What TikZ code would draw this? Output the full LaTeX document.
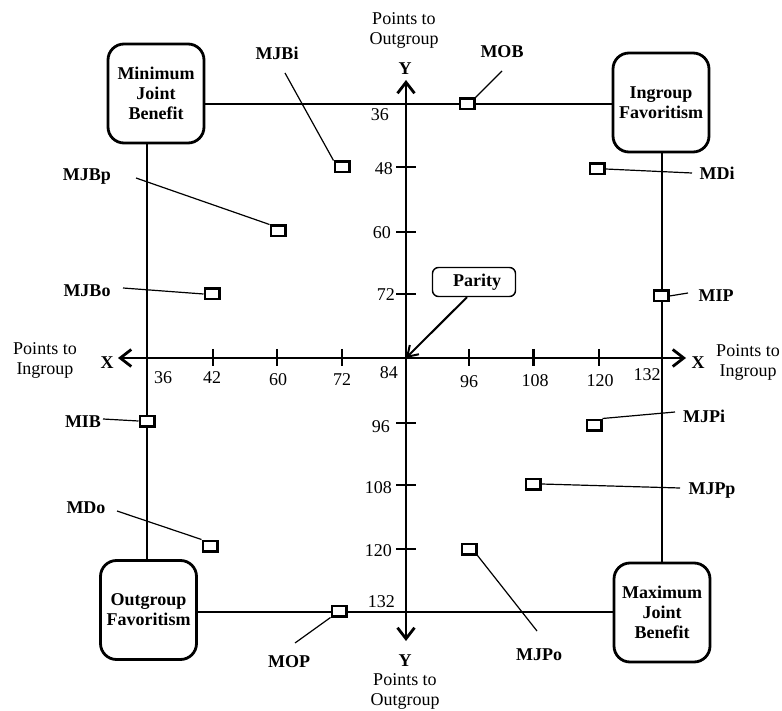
\documentclass[tikz,border=0pt]{standalone}
\usepackage{fontspec}
\setmainfont{Liberation Serif}
\usetikzlibrary{arrows.meta}
\begin{document}
\begin{tikzpicture}[x=1pt,y=-1pt,
  lbl/.style={font=\fontsize{18}{20}\selectfont\bfseries, anchor=base, inner sep=0pt},
  axlbl/.style={font=\fontsize{18}{19.5}\selectfont, align=center, anchor=north, inner sep=0pt},
  num/.style={font=\fontsize{18}{20}\selectfont, inner sep=0pt},
  bigbox/.style={draw, fill=white, line width=2.8pt, rounded corners=16pt, minimum width=96pt, minimum height=99pt, align=center, font=\fontsize{18}{20}\selectfont\bfseries, inner sep=0pt},
  paritybox/.style={draw, fill=white, line width=1.4pt, rounded corners=6pt, minimum width=83pt, minimum height=29pt, font=\fontsize{18}{20}\selectfont\bfseries, inner sep=0pt},
  sq/.style={draw, fill=white, line width=2.5pt, minimum width=14.5pt, minimum height=10.5pt, inner sep=0pt},
  frameline/.style={line width=2.8pt},
  axisline/.style={line width=2.8pt, {Straight Barb[length=11pt,width=17pt]}-{Straight Barb[length=11pt,width=17pt]}},
  tickline/.style={line width=2.4pt},
  leader/.style={line width=1.2pt},
  parityarrow/.style={line width=2pt, -{Straight Barb[length=10pt,width=13pt]}}
]
\useasboundingbox (0,0) rectangle (782,711);

% corner coordinates of the frame
\coordinate (c00) at (147,104);
\coordinate (c80) at (662,104);
\coordinate (c08) at (147,612);
\coordinate (c88) at (662,612);

% the four strategy boxes
\node[bigbox] (minjb) at (156,93.5) {Minimum\\Joint\\Benefit};
\node[bigbox] (ingf) at (661,102.5) {Ingroup\\Favoritism};
\node[bigbox] (outf) at (148.5,610) {Outgroup\\Favoritism};
\node[bigbox] (maxjb) at (662,612.5) {Maximum\\Joint\\Benefit};

% frame lines
\draw[frameline] (minjb.east |- c00) -- (ingf.west |- c00);
\draw[frameline] (ingf.south -| c80) -- (maxjb.north -| c80);
\draw[frameline] (outf.east |- c08) -- (maxjb.west |- c08);
\draw[frameline] (minjb.south -| c00) -- (outf.north -| c00);

% axes
\coordinate (o) at (406,358);
\coordinate (ytop) at (406,80);
\coordinate (ybot) at (406,641);
\coordinate (xl) at (118,358);
\coordinate (xr) at (686,358);
\draw[axisline] (ybot) -- (ytop);
\draw[axisline] (xl) -- (xr);

% ticks
\foreach \yy in {167,232,294,423,485,549} \draw[tickline] (396,\yy) -- (416,\yy);
\foreach \xx in {212.7,276.7,341.7,469,533.3,599} \draw[tickline] (\xx,349) -- (\xx,366);

% y tick labels
\node[num, anchor=base east] (ty36) at (389,121) {36};
\node[num, anchor=base east] (ty48) at (393,175) {48};
\node[num, anchor=base east] (ty60) at (391,239) {60};
\node[num, anchor=base east] (ty72) at (395,301) {72};
\node[num, anchor=base east] (ty84) at (398,378) {84};
\node[num, anchor=base east] (ty96) at (390,432) {96};
\node[num, anchor=base east] (ty108) at (392,493) {108};
\node[num, anchor=base east] (ty120) at (392,556) {120};
\node[num, anchor=base east] (ty132) at (395,607) {132};

% x tick labels
\node[num, anchor=base] (tx36) at (163,383) {36};
\node[num, anchor=base] (tx42) at (212,383) {42};
\node[num, anchor=base] (tx60) at (278,385) {60};
\node[num, anchor=base] (tx72) at (342,385) {72};
\node[num, anchor=base] (tx96) at (469,387) {96};
\node[num, anchor=base] (tx108) at (535,386) {108};
\node[num, anchor=base] (tx120) at (600,386) {120};
\node[num, anchor=base] (tx132) at (647,381) {132};

% axis labels
\node[lbl] (ytoplbl) at (405,75) {Y};
\node[lbl] (ybotlbl) at (405,666) {Y};
\node[lbl] (xleftlbl) at (107,368) {X};
\node[lbl] (xrightlbl) at (698,368) {X};
\node[axlbl] (ptotop) at (404,12.5) {Points to\\Outgroup};
\node[axlbl] (ptobot) at (405,673.5) {Points to\\Outgroup};
\node[axlbl] (ptileft) at (45,342.5) {Points to\\Ingroup};
\node[axlbl] (ptiright) at (748,344.5) {Points to\\Ingroup};

% parity
\node[paritybox] (parity) at (474,282) {\hspace*{6pt}Parity};
\draw[parityarrow] ([xshift=-7pt]parity.south) -- (o);

% leader end coordinates
\coordinate (emob) at (502,71);
\coordinate (emjbi) at (285,73);
\coordinate (emjbp) at (136,178);
\coordinate (emjbo) at (123,288);
\coordinate (emib) at (103,419);
\coordinate (emdo) at (117,511);
\coordinate (emop) at (295,643);
\coordinate (emjpo) at (537,631);
\coordinate (emjpp) at (680,488);
\coordinate (emjpi) at (675,412);
\coordinate (emip) at (688,293);
\coordinate (emdi) at (692,173);

% point squares
\node[sq] (mob) at (467,104) {};
\node[sq] (mjbi) at (342,167) {};
\node[sq] (mjbp) at (278,231) {};
\node[sq] (mjbo) at (212,294) {};
\node[sq] (mib) at (147,421) {};
\node[sq] (mdo) at (210,546) {};
\node[sq] (mop) at (339,611) {};
\node[sq] (mjpo) at (469,549) {};
\node[sq] (mjpp) at (533,484) {};
\node[sq] (mjpi) at (594,425) {};
\node[sq] (mip) at (661,296) {};
\node[sq] (mdi) at (597,169) {};

% leaders
\draw[leader] (emob) -- (mob.north east);
\draw[leader] (emjbi) -- (mjbi.north west);
\draw[leader] (emjbp) -- (mjbp.north west);
\draw[leader] (emjbo) -- (mjbo.west);
\draw[leader] (emib) -- (mib.west);
\draw[leader] (emdo) -- (mdo.north west);
\draw[leader] (emop) -- (mop.south west);
\draw[leader] (emjpo) -- (mjpo.south east);
\draw[leader] (emjpp) -- (mjpp.east);
\draw[leader] (emjpi) -- (mjpi.north east);
\draw[leader] (emip) -- (mip.east);
\draw[leader] (emdi) -- (mdi.east);

% point labels
\node[lbl] (lmob) at (502,58) {MOB};
\node[lbl] (lmjbi) at (277,60) {MJBi};
\node[lbl] (lmjbp) at (87,181) {MJBp};
\node[lbl] (lmjbo) at (87,297) {MJBo};
\node[lbl] (lmib) at (83,427) {MIB};
\node[lbl] (lmdo) at (86,513) {MDo};
\node[lbl] (lmop) at (289,667) {MOP};
\node[lbl] (lmjpo) at (539,660) {MJPo};
\node[lbl] (lmjpp) at (712,494) {MJPp};
\node[lbl] (lmjpi) at (704,422) {MJPi};
\node[lbl] (lmip) at (716,302) {MIP};
\node[lbl] (lmdi) at (717,180) {MDi};
\end{tikzpicture}
\end{document}
